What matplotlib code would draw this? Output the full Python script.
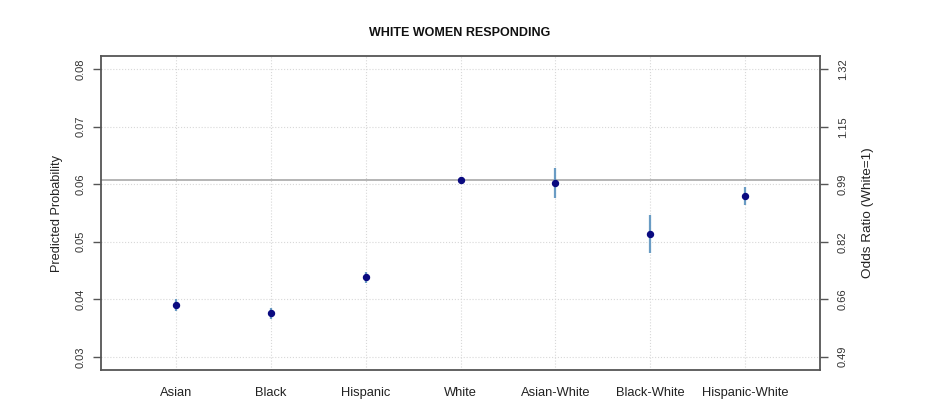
import matplotlib
matplotlib.use('Agg')
import matplotlib.pyplot as plt

plt.rcParams['font.family'] = ['Liberation Sans', 'DejaVu Sans']

# data
groups = ['Asian', 'Black', 'Hispanic', 'White', 'Asian-White', 'Black-White', 'Hispanic-White']
prob = [0.0390, 0.0376, 0.0438, 0.0608, 0.0603, 0.0514, 0.0580]
lower = [0.0379, 0.0365, 0.0428, 0.0605, 0.0576, 0.0481, 0.0564]
upper = [0.0401, 0.0385, 0.0447, 0.0611, 0.0628, 0.0547, 0.0595]
ref_line = 0.0608
y_ticks = [0.03, 0.04, 0.05, 0.06, 0.07, 0.08]
or_labels = ['0.49', '0.66', '0.82', '0.99', '1.15', '1.32']

x = list(range(1, len(groups) + 1))

fig = plt.figure(figsize=(9.48, 4.17), dpi=100)
ax = fig.add_axes([101/948, 1 - 370/417, 719/948, 314/417])

ax.set_xlim(0.21, 7.79)
ax.set_ylim(0.0277, 0.0823)

# grid
for yt in y_ticks:
    ax.axhline(yt, color='#d8d8d8', linestyle=':', linewidth=0.8, zorder=0)
for xi in x:
    ax.axvline(xi, color='#d8d8d8', linestyle=':', linewidth=0.8, zorder=0)

ax.axhline(ref_line, color='#a8a8a8', linewidth=1.2, zorder=1)

yerr = [[p - l for p, l in zip(prob, lower)], [u - p for p, u in zip(prob, upper)]]
ax.errorbar(x, prob, yerr=yerr, fmt='none', ecolor='#6a9cc4', elinewidth=1.6, zorder=2)
ax.plot(x, prob, 'o', color='#0a0a80', markersize=4.3, zorder=3)

ax.set_xticks(x)
ax.set_xticklabels(groups, fontsize=9.3, color='#222222')
ax.tick_params(axis='x', length=0, pad=12)

ax.set_yticks(y_ticks)
ax.set_yticklabels(['%.2f' % v for v in y_ticks], rotation=90, va='center', fontsize=8, color='#333333')
ax.tick_params(axis='y', length=6, width=1, color='#555555', pad=5)
ax.set_ylabel('Predicted Probability', fontsize=9.2, color='#222222', labelpad=9)

for s in ax.spines.values():
    s.set_color('#555555')
    s.set_linewidth(1.3)

ax2 = ax.twinx()
ax2.set_ylim(ax.get_ylim())
ax2.set_yticks(y_ticks)
ax2.set_yticklabels(or_labels, rotation=90, va='center', fontsize=8, color='#333333')
ax2.tick_params(axis='y', length=6, width=1, color='#555555', pad=7)
ax2.set_ylabel('Odds Ratio (White=1)', fontsize=9.7, color='#222222', rotation=90, labelpad=10)
for s in ax2.spines.values():
    s.set_visible(False)

fig.text(460/948, 1 - 33/417, 'WHITE WOMEN RESPONDING', ha='center', va='center',
         fontsize=9, fontweight='bold', color='#111111')

fig.savefig('out.png', dpi=100)
